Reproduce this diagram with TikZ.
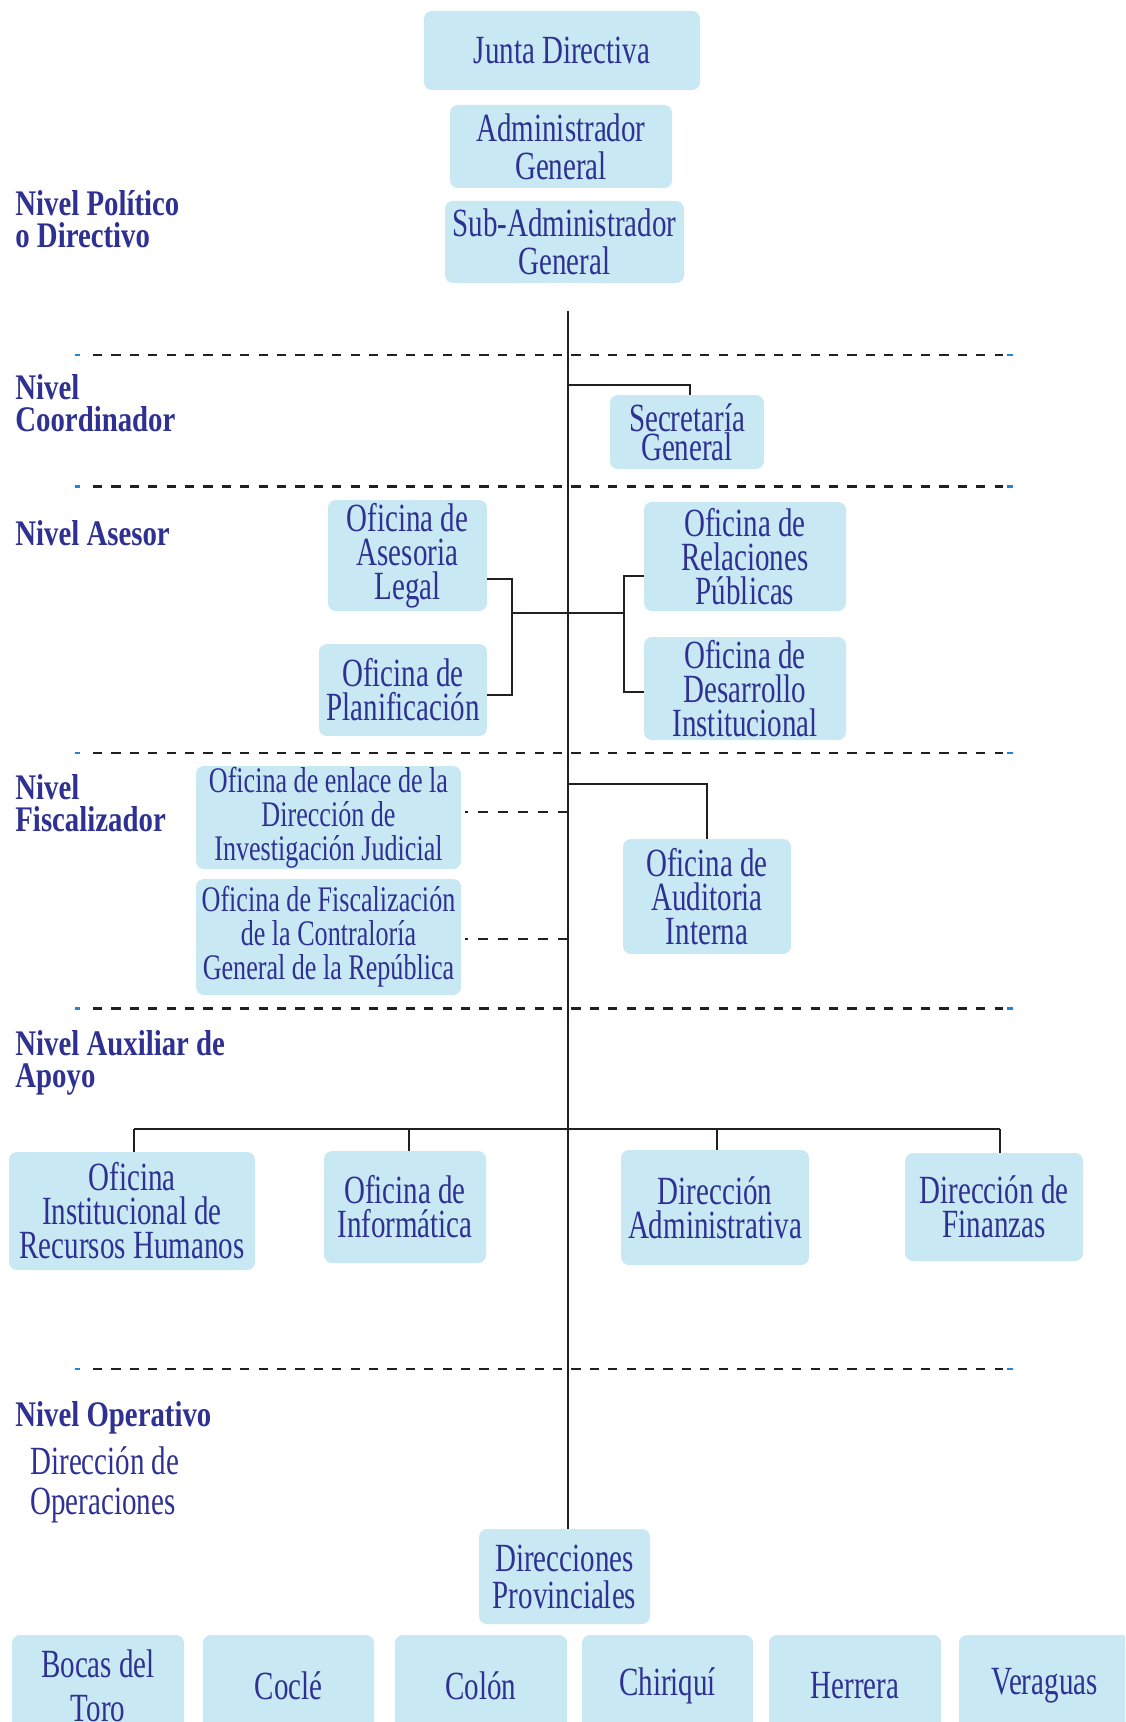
\documentclass[tikz,border=0pt]{standalone}
\usepackage{fontspec}
\setmainfont{Liberation Serif}
\newfontfamily\boxfont[FakeStretch=0.725]{Liberation Serif}
\newfontfamily\lblfont[FakeStretch=0.8]{Liberation Serif Bold}
\definecolor{boxblue}{RGB}{200,232,244}
\definecolor{txtblue}{RGB}{46,49,146}
\definecolor{tickblue}{RGB}{30,136,208}
\definecolor{linedark}{RGB}{35,31,32}
\begin{document}
\begin{tikzpicture}[x=0.5pt,y=-0.5pt,
  box/.style={fill=boxblue, rounded corners=4pt, inner sep=0pt, align=center, text=txtblue,
    font={\boxfont\fontsize{20pt}{17pt}\selectfont}},
  boxsmall/.style={box, font={\boxfont\fontsize{18pt}{17pt}\selectfont}},
  lvl/.style={anchor=west, inner sep=0pt, align=left, text=txtblue,
    font={\lblfont\fontsize{18pt}{16pt}\selectfont}},
  lvldash/.style={line width=1.4pt, dash pattern=on 4.6pt off 4.6pt, draw=linedark},
  tick/.style={line width=1.4pt, draw=tickblue},
  fdash/.style={line width=1.4pt, dash pattern=on 5pt off 5pt, draw=linedark},
  conn/.style={line width=1.05pt, draw=linedark}
]
\clip (0,0) rectangle (1125,1722);
\fill[white] (0,0) rectangle (1125,1722);

% level separators
\foreach \yy in {355,486.5,753,1008.5,1369}{
  \draw[tick] (75,\yy) -- (80,\yy);
  \draw[lvldash] (93,\yy) -- (1003,\yy);
  \draw[tick] (1007,\yy) -- (1013,\yy);
}

% level labels
\node[lvl] (lpol) at (15,219) {Nivel Político\\o Directivo};
\node[lvl] (lcoord) at (15,403.5) {Nivel\\Coordinador};
\node[lvl, anchor=base west] (lases) at (15,545) {Nivel Asesor};
\node[lvl] (lfisc) at (15,803.5) {Nivel\\Fiscalizador};
\node[lvl] (laux) at (15,1063) {Nivel Auxiliar de\\Apoyo};
\node[lvl, anchor=base west] (lope) at (15,1426) {Nivel Operativo};
\node[lvl, font={\boxfont\fontsize{20pt}{20pt}\selectfont}] (ldir) at (30,1484.5) {Dirección de\\Operaciones};

% boxes
\node[box, minimum width=138pt, minimum height=39.5pt] (junta) at (562,50.5) {Junta Directiva};
\node[box, minimum width=111pt, minimum height=41.5pt, font={\boxfont\fontsize{20pt}{19pt}\selectfont}] (admin) at (561,146.5) {Administrador\\General};
\node[box, minimum width=119.5pt, minimum height=41pt, font={\boxfont\fontsize{20pt}{19pt}\selectfont}] (subadmin) at (564.5,242) {Sub-Administrador\\General};
\node[box, minimum width=77pt, minimum height=37pt, font={\boxfont\fontsize{20pt}{14.3pt}\selectfont}] (secre) at (687,432) {Secretaría\\General};
\node[box, minimum width=79.5pt, minimum height=55.5pt] (legal) at (407.5,555.5) {Oficina de\\Asesoria\\Legal};
\node[box, minimum width=84pt, minimum height=46pt] (planif) at (403,690) {Oficina de\\Planificación};
\node[box, minimum width=101pt, minimum height=54.5pt] (relac) at (745,556.5) {Oficina de\\Relaciones\\Públicas};
\node[box, minimum width=101pt, minimum height=51.5pt] (desarr) at (745,688.5) {Oficina de\\Desarrollo\\Institucional};
\node[boxsmall, minimum width=132.5pt, minimum height=51.5pt] (enlace) at (328.5,817.5) {Oficina de enlace de la\\Dirección de\\Investigación Judicial};
\node[boxsmall, minimum width=132.5pt, minimum height=58pt] (fiscal) at (328.5,937) {Oficina de Fiscalización\\de la Contraloría\\General de la República};
\node[box, minimum width=84pt, minimum height=57.5pt] (audit) at (707,896.5) {Oficina de\\Auditoria\\Interna};
\node[box, minimum width=123pt, minimum height=59pt] (rrhh) at (132,1211) {Oficina\\Institucional de\\Recursos Humanos};
\node[box, minimum width=81pt, minimum height=56pt] (inform) at (405,1207) {Oficina de\\Informática};
\node[box, minimum width=94pt, minimum height=57.5pt] (dadmin) at (715,1207.5) {Dirección\\Administrativa};
\node[box, minimum width=89pt, minimum height=54pt] (finan) at (994,1207) {Dirección de\\Finanzas};
\node[box, minimum width=85.5pt, minimum height=47.5pt, font={\boxfont\fontsize{20pt}{18.5pt}\selectfont}] (prov) at (564.5,1576.5) {Direcciones\\Provinciales};

% provinces
\node[box, minimum width=86pt, minimum height=51pt, font={\boxfont\fontsize{20pt}{22pt}\selectfont}] (bocas) at (98,1686) {Bocas del\\Toro};
\node[box, minimum width=85.5pt, minimum height=51pt] (cocle) at (288.5,1686) {Coclé};
\node[box, minimum width=86pt, minimum height=51pt] (colon) at (481,1686) {Colón};
\node[box, minimum width=85.5pt, minimum height=51pt] (chiriqui) at (667.5,1686) {Chiriquí};
\node[box, minimum width=86pt, minimum height=51pt] (herrera) at (855,1686) {Herrera};
\node[box, minimum width=85.5pt, minimum height=51pt] (veraguas) at (1044.5,1686) {Veraguas};

% connectors
\coordinate (top) at (568,311);
\draw[conn] (top) -- (top |- prov.north);

\coordinate (jsec) at (690,385);
\draw[conn, line width=1.3pt] (top |- jsec) -- (jsec) -- (jsec |- secre.north);

\coordinate (bl1) at (511.7,579.3);
\coordinate (bl2) at (511.7,695);
\coordinate (jl) at (511.7,613.3);
\coordinate (jr) at (624.3,613.3);
\coordinate (br1) at (624.3,576);
\coordinate (br2) at (624.3,692.3);
\draw[conn] (legal.east |- bl1) -- (bl1) -- (bl2) -- (planif.east |- bl2);
\draw[conn] (jl) -- (jr);
\draw[conn] (relac.west |- br1) -- (br1) -- (br2) -- (desarr.west |- br2);

\coordinate (fe) at (568,812);
\coordinate (ff) at (568,939);
\draw[fdash, shorten >=2pt] (fe) -- (enlace.east |- fe);
\draw[fdash, shorten >=2pt] (ff) -- (fiscal.east |- ff);

\coordinate (jaud) at (707,784);
\draw[conn] (top |- jaud) -- (jaud) -- (jaud |- audit.north);

\coordinate (d1) at (134,1129);
\coordinate (d2) at (409,1129);
\coordinate (d3) at (717,1129);
\coordinate (d4) at (1000,1129);
\draw[conn] (d1) -- (d4);
\draw[conn] (d1) -- (d1 |- rrhh.north);
\draw[conn] (d2) -- (d2 |- inform.north);
\draw[conn] (d3) -- (d3 |- dadmin.north);
\draw[conn] (d4) -- (d4 |- finan.north);
\end{tikzpicture}
\end{document}
